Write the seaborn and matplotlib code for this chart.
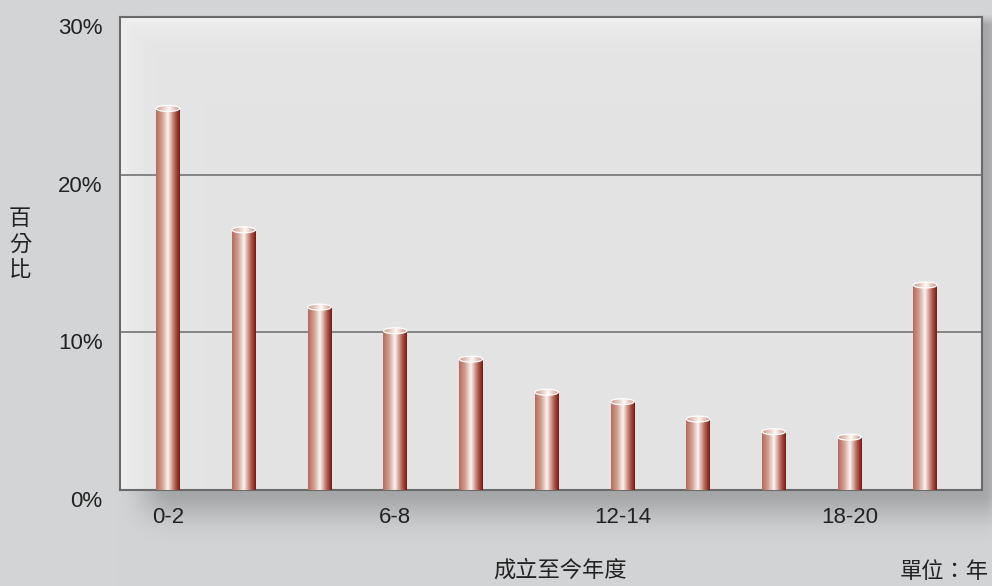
import numpy as np
import pandas as pd
import matplotlib
matplotlib.use("Agg")
import matplotlib.pyplot as plt
from matplotlib.patches import Ellipse
from matplotlib.colors import LinearSegmentedColormap
import matplotlib.transforms as mtransforms
import seaborn as sns

# ---- data ----
categories = ["0-2", "2-4", "4-6", "6-8", "8-10", "10-12", "12-14",
              "14-16", "16-18", "18-20", "20以上"]
shares = [24.2, 16.5, 11.6, 10.1, 8.3, 6.2, 5.6, 4.5, 3.7, 3.35, 13.0]
shown_ticks = [0, 3, 6, 9]
shown_labels = ["0-2", "6-8", "12-14", "18-20"]
y_ticks = [0, 10, 20, 30]
y_tick_labels = ["0%", "10%", "20%", "30%"]

sns.set_theme(style="white")
plt.rcParams["font.family"] = ["Liberation Sans", "Noto Sans CJK TC", "DejaVu Sans"]

W, H = 992, 586
fig = plt.figure(figsize=(W / 100, H / 100), dpi=100)
bg = "#d3d4d6"
fig.patch.set_facecolor(bg)

# axes placement in pixels
x0, x1, ytop, ybot = 120, 982, 17, 490

# ---- figure background with a drop shadow falling below / right of the panel ----
ax_bg = fig.add_axes([0, 0, 1, 1], zorder=-5)
ax_bg.axis("off")
yy, xx = np.mgrid[0:H, 0:W].astype(float)
# horizontal profile: fades in from the left, falls off past the right edge
fx = np.clip((xx - 115) / 60.0, 0, 1)
fx = fx * fx * (3 - 2 * fx)
fx = np.where(xx > x1, np.exp(-((xx - x1) / 18.0) ** 2), fx)
# vertical profile: starts just under the top edge, falls off below the bottom
fy = np.clip((yy - 14) / 10.0, 0, 1)
fy = np.where(yy > ybot, np.exp(-((yy - ybot) / 28.0) ** 2), fy)
shade = 0.18 * fx * fy
base = np.array([0xd3, 0xd4, 0xd6]) / 255.0
img = np.clip(base[None, None, :] - shade[:, :, None], 0, 1)
ax_bg.imshow(img, extent=(0, 1, 0, 1), transform=ax_bg.transAxes, aspect="auto",
             interpolation="bilinear")
ax_bg.set_xlim(0, 1)
ax_bg.set_ylim(0, 1)

# ---- main axes ----
ax = fig.add_axes([x0 / W, 1 - ybot / H, (x1 - x0) / W, (ybot - ytop) / H], zorder=1)
df = pd.DataFrame({"cat": categories, "share": shares})
sns.barplot(data=df, x="cat", y="share", order=categories, width=0.31,
            color="#a0483c", ax=ax, zorder=2)

# panel face: light grey with a brighter glow along the top and left edges
ph, pw = ybot - ytop, x1 - x0
py, px = np.mgrid[0:ph, 0:pw]
glow = 0.05 * np.maximum(np.exp(-px / 14.0), np.exp(-py / 14.0))
face = np.clip(0.894 + glow, 0, 1)
face_rgb = np.dstack([face, face, face])
ax.imshow(face_rgb, extent=(0, 1, 0, 1), transform=ax.transAxes, aspect="auto", zorder=-2)

# cylinder shading
stops = [(0.00, (0.70, 0.42, 0.37)),
         (0.25, (0.82, 0.62, 0.57)),
         (0.50, (0.99, 0.96, 0.95)),
         (0.62, (0.88, 0.72, 0.68)),
         (0.82, (0.66, 0.33, 0.28)),
         (1.00, (0.48, 0.09, 0.07))]
cyl = LinearSegmentedColormap.from_list("cyl", stops)
grad = cyl(np.linspace(0, 1, 128))[:, :3]
top_stops = [(0.0, (0.80, 0.58, 0.53)), (0.55, (1.0, 0.98, 0.97)),
             (1.0, (0.80, 0.56, 0.51))]
topmap = LinearSegmentedColormap.from_list("top", top_stops)
top_grad = topmap(np.linspace(0, 1, 128))[:, :3]

ell_h = 0.38
for p in list(ax.patches):
    bx, bw, bh = p.get_x(), p.get_width(), p.get_height()
    p.set_facecolor("none")
    p.set_edgecolor("none")
    im = ax.imshow(grad[None, :, :], extent=(bx, bx + bw, 0, bh),
                   aspect="auto", zorder=3, interpolation="bilinear")
    im.set_clip_path(p)
    e = Ellipse((bx + bw / 2, bh), bw, ell_h, facecolor="none",
                edgecolor="none", zorder=4)
    ax.add_patch(e)
    im2 = ax.imshow(top_grad[None, :, :],
                    extent=(bx, bx + bw, bh - ell_h / 2, bh + ell_h / 2),
                    aspect="auto", zorder=4, interpolation="bilinear")
    im2.set_clip_path(e)
    ax.add_patch(Ellipse((bx + bw / 2, bh), bw, ell_h, facecolor="none",
                         edgecolor="white", lw=0.9, zorder=5))

ax.set_xlim(-0.634, 10.75)
ax.set_ylim(0, 30)
ax.set_facecolor("#e4e4e4")

# horizontal grid lines
for g in [10, 20]:
    ax.axhline(g, color="#7c7c7c", lw=1.3, zorder=1)

for s in ax.spines.values():
    s.set_visible(True)
    s.set_color("#6a6a6a")
    s.set_linewidth(1.5)

ax.set_xticks(shown_ticks)
ax.set_xticklabels(shown_labels, fontsize=16, color="#222222")
ax.set_yticks(y_ticks)
ax.set_yticklabels(y_tick_labels, fontsize=16, color="#222222")
ax.tick_params(axis="both", length=0)
ax.tick_params(axis="x", pad=12)
ax.tick_params(axis="y", pad=12.5)
shift = mtransforms.ScaledTranslation(0, -9 / 100, fig.dpi_scale_trans)
for lab in ax.get_yticklabels():
    lab.set_transform(lab.get_transform() + shift)
ax.set_xlabel("")
ax.set_ylabel("")

# axis titles
fig.text(20 / W, 1 - 245 / H, "百\n分\n比", ha="center", va="center",
         fontsize=16, linespacing=1.3, color="#222222")
fig.text(560 / W, 1 - 571 / H, "成立至今年度", ha="center", va="center",
         fontsize=16, color="#222222")
fig.text(944 / W, 1 - 572 / H, "單位：年", ha="center", va="center",
         fontsize=16, color="#222222")

fig.savefig("out.png", dpi=100, facecolor=fig.get_facecolor())
